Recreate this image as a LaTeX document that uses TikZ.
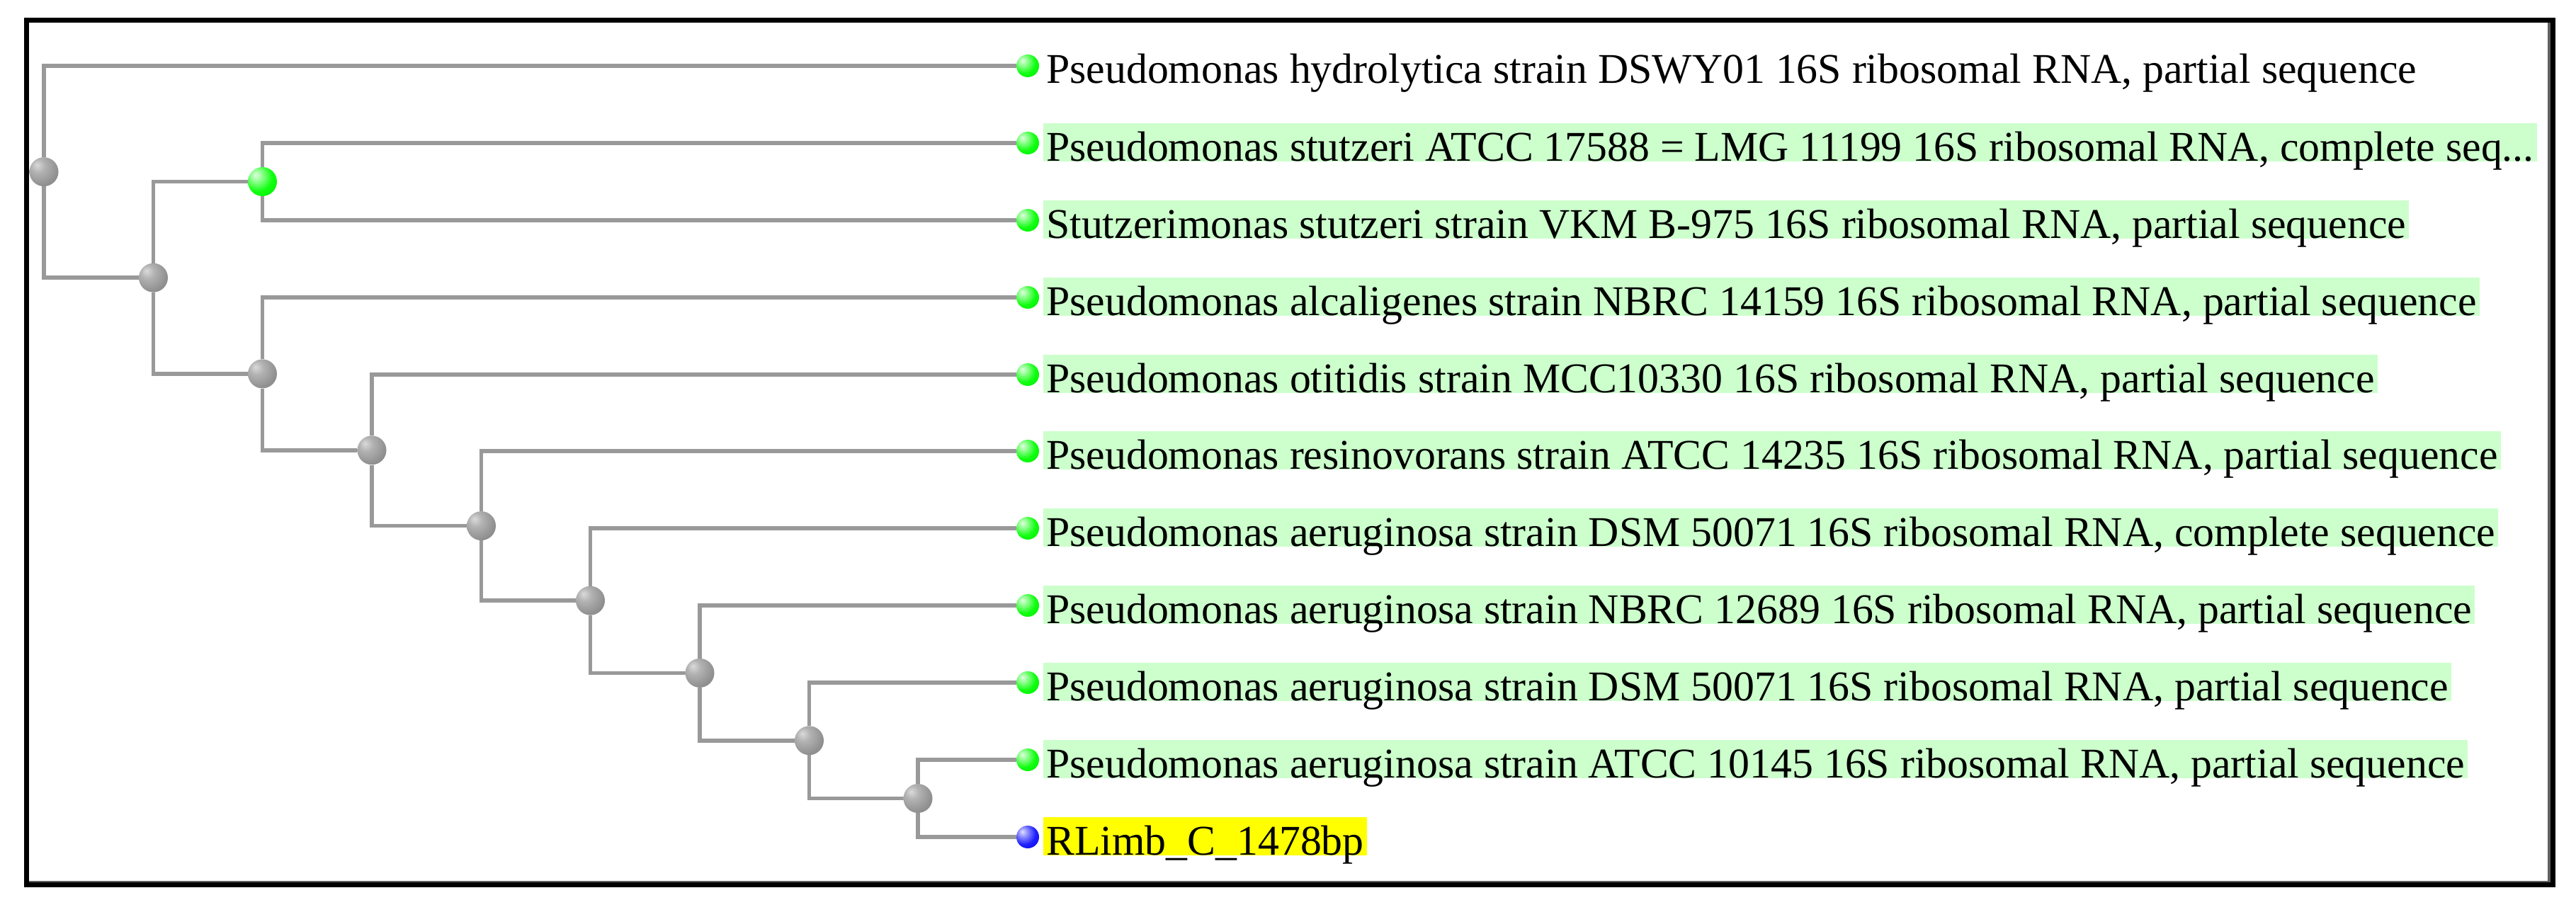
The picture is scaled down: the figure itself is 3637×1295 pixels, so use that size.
\documentclass[tikz,border=0pt]{standalone}
\usepackage{fontspec}
\setmainfont{Liberation Serif}
\definecolor{treeline}{HTML}{999999}
\definecolor{hlgreen}{HTML}{CCFFCC}
\definecolor{hlyellow}{HTML}{FFFF00}
\definecolor{frameinner}{HTML}{606060}
\definecolor{gA}{HTML}{DADADA}\definecolor{gB}{HTML}{B2B2B2}\definecolor{gC}{HTML}{919191}\definecolor{gD}{HTML}{7C7C7C}\definecolor{gE}{HTML}{606060}
\definecolor{nA}{HTML}{E0FFE0}\definecolor{nB}{HTML}{80FF80}\definecolor{nC}{HTML}{10FF10}\definecolor{nD}{HTML}{00E800}\definecolor{nE}{HTML}{00C000}
\definecolor{bA}{HTML}{E0E0FF}\definecolor{bB}{HTML}{8080FF}\definecolor{bC}{HTML}{2020FF}\definecolor{bD}{HTML}{0000E0}\definecolor{bE}{HTML}{0000B0}
\pgfdeclareradialshading{grayball}{\pgfpoint{-12bp}{12bp}}{color(0bp)=(gA); color(12bp)=(gB); color(30bp)=(gC); color(45bp)=(gD); color(62bp)=(gE); color(80bp)=(gE)}
\pgfdeclareradialshading{greenball}{\pgfpoint{-12bp}{12bp}}{color(0bp)=(nA); color(12bp)=(nB); color(25bp)=(nC); color(45bp)=(nD); color(62bp)=(nE); color(80bp)=(nE)}
\pgfdeclareradialshading{blueball}{\pgfpoint{-12bp}{12bp}}{color(0bp)=(bA); color(12bp)=(bB); color(25bp)=(bC); color(45bp)=(bD); color(62bp)=(bE); color(80bp)=(bE)}
\begin{document}
\begin{tikzpicture}[x=1pt,y=-1pt,
  inode/.style={circle, minimum size=41pt, inner sep=0pt, shade, shading=grayball},
  gnode/.style={circle, minimum size=41pt, inner sep=0pt, shade, shading=greenball},
  leafdot/.style={circle, minimum size=32pt, inner sep=0pt, shade, shading=greenball},
  querydot/.style={circle, minimum size=32pt, inner sep=0pt, shade, shading=blueball},
  lbl/.style={anchor=base west, inner xsep=4pt, inner ysep=0pt, text height=53pt, text depth=1pt, font=\fontsize{59.8}{60}\selectfont},
  hl/.style={lbl, fill=hlgreen},
  hly/.style={lbl, fill=hlyellow},
  branch/.style={draw=treeline, line width=5.5pt}]
\useasboundingbox (0,0) rectangle (3637,1295);
\fill[white] (0,0) rectangle (3637,1295);
% frame
\draw[line width=7pt] (37.5,28.5) rectangle (3604.5,1249.5);
\draw[frameinner, line width=3.5pt] (3599.2,32) -- (3599.2,1246);
\draw[frameinner, line width=2.5pt] (41,1244.8) -- (3601,1244.8);
% leaf rows
\def\ya{93}\def\yb{202}\def\yc{311}\def\yd{420}\def\ye{529}\def\yf{637}
\def\yg{746}\def\yh{855}\def\yi{964}\def\yj{1073}\def\yk{1182}
% internal nodes
\node[inode] (R) at (62,242.6) {};
\node[inode] (B) at (216.5,392.2) {};
\node[gnode] (G) at (370.5,256.5) {};
\node[inode] (C) at (370.5,527.9) {};
\node[inode] (D) at (525,635.8) {};
\node[inode] (E) at (679.5,742.6) {};
\node[inode] (F) at (833.5,848.2) {};
\node[inode] (H) at (988,950.4) {};
\node[inode] (I) at (1142.5,1045.75) {};
\node[inode] (J) at (1296,1127.5) {};
% leaf dots
\node[leafdot] (L1) at (1451,\ya) {};
\node[leafdot] (L2) at (1451,\yb) {};
\node[leafdot] (L3) at (1451,\yc) {};
\node[leafdot] (L4) at (1451,\yd) {};
\node[leafdot] (L5) at (1451,\ye) {};
\node[leafdot] (L6) at (1451,\yf) {};
\node[leafdot] (L7) at (1451,\yg) {};
\node[leafdot] (L8) at (1451,\yh) {};
\node[leafdot] (L9) at (1451,\yi) {};
\node[leafdot] (L10) at (1451,\yj) {};
\node[querydot] (L11) at (1451,\yk) {};
% branches
\draw[branch] (R) |- (L1);
\draw[branch] (R) |- (B);
\draw[branch] (B) |- (G);
\draw[branch] (B) |- (C);
\draw[branch] (G) |- (L2);
\draw[branch] (G) |- (L3);
\draw[branch] (C) |- (L4);
\draw[branch] (C) |- (D);
\draw[branch] (D) |- (L5);
\draw[branch] (D) |- (E);
\draw[branch] (E) |- (L6);
\draw[branch] (E) |- (F);
\draw[branch] (F) |- (L7);
\draw[branch] (F) |- (H);
\draw[branch] (H) |- (L8);
\draw[branch] (H) |- (I);
\draw[branch] (I) |- (L9);
\draw[branch] (I) |- (J);
\draw[branch] (J) |- (L10);
\draw[branch] (J) |- (L11);
% labels
\node[lbl] (T1) at (1473,\ya+25) {Pseudomonas hydrolytica strain DSWY01 16S ribosomal RNA, partial sequence};
\node[hl] (T2) at (1473,\yb+25) {Pseudomonas stutzeri ATCC 17588 = LMG 11199 16S ribosomal RNA, complete seq...};
\node[hl] (T3) at (1473,\yc+25) {Stutzerimonas stutzeri strain VKM B-975 16S ribosomal RNA, partial sequence};
\node[hl] (T4) at (1473,\yd+25) {Pseudomonas alcaligenes strain NBRC 14159 16S ribosomal RNA, partial sequence};
\node[hl] (T5) at (1473,\ye+25) {Pseudomonas otitidis strain MCC10330 16S ribosomal RNA, partial sequence};
\node[hl] (T6) at (1473,\yf+25) {Pseudomonas resinovorans strain ATCC 14235 16S ribosomal RNA, partial sequence};
\node[hl] (T7) at (1473,\yg+25) {Pseudomonas aeruginosa strain DSM 50071 16S ribosomal RNA, complete sequence};
\node[hl] (T8) at (1473,\yh+25) {Pseudomonas aeruginosa strain NBRC 12689 16S ribosomal RNA, partial sequence};
\node[hl] (T9) at (1473,\yi+25) {Pseudomonas aeruginosa strain DSM 50071 16S ribosomal RNA, partial sequence};
\node[hl] (T10) at (1473,\yj+25) {Pseudomonas aeruginosa strain ATCC 10145 16S ribosomal RNA, partial sequence};
\node[hly] (T11) at (1473,\yk+25) {RLimb\_C\_1478bp};
\end{tikzpicture}
\end{document}
